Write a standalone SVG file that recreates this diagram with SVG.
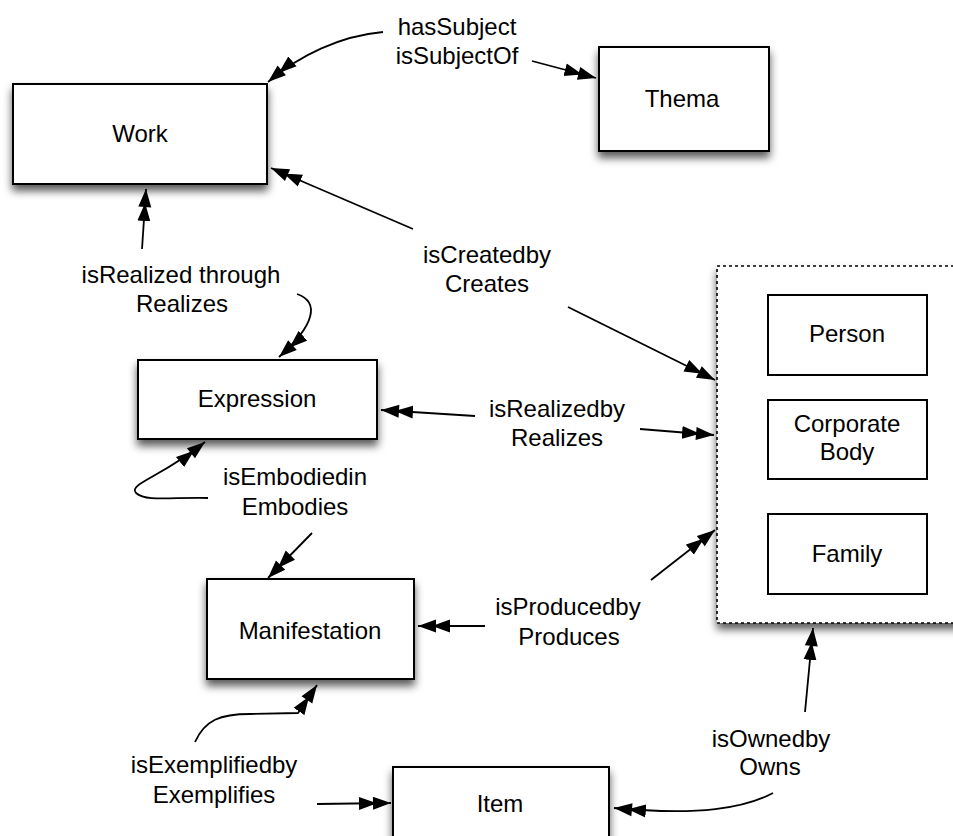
<svg xmlns="http://www.w3.org/2000/svg" width="953" height="836" viewBox="0 0 953 836">
<style>
.box{fill:#fff;stroke:#000;stroke-width:2}
.sh{filter:url(#shadow)}
.t{font-family:"Liberation Sans",Arial,sans-serif;font-size:24px;fill:#000;text-anchor:middle}
.c{fill:none;stroke:#000;stroke-width:1.8;marker-end:url(#dbl)}
</style>
<defs>
<filter id="shadow" x="-20%" y="-20%" width="140%" height="150%">
<feDropShadow dx="0" dy="6" stdDeviation="4.5" flood-color="#000" flood-opacity="0.65"/>
</filter>
<marker id="dbl" viewBox="0 0 32 14" refX="32" refY="7" markerWidth="32" markerHeight="14" markerUnits="userSpaceOnUse" orient="auto">
<path d="M0,0.5 L18,7 L0,13.5 Z M14,0.5 L32,7 L14,13.5 Z" fill="#000"/>
</marker>
</defs>

<g id="agents">
<rect class="sh" x="717" y="266" width="300" height="357" fill="#fff" stroke="#000" stroke-width="1.6" stroke-dasharray="3,3"/>
</g>
<g id="person"><rect class="box" x="768" y="295" width="159" height="80"/><text class="t" x="847" y="342">Person</text></g>
<g id="corporate"><rect class="box" x="768" y="400" width="159" height="79"/><text class="t" x="847" y="432">Corporate</text><text class="t" x="847" y="460">Body</text></g>
<g id="family"><rect class="box" x="768" y="514" width="159" height="80"/><text class="t" x="847" y="562">Family</text></g>

<g id="work"><rect class="box sh" x="13" y="84" width="254" height="100"/><text class="t" x="140" y="142">Work</text></g>
<g id="thema"><rect class="box sh" x="599" y="47" width="170" height="104"/><text class="t" x="682" y="107">Thema</text></g>
<g id="expression"><rect class="box sh" x="138" y="360" width="239" height="79"/><text class="t" x="257" y="407">Expression</text></g>
<g id="manifestation"><rect class="box sh" x="207" y="579" width="207" height="100"/><text class="t" x="310" y="639">Manifestation</text></g>
<g id="item"><rect class="box sh" x="393" y="767" width="216" height="90"/><text class="t" x="500" y="812">Item</text></g>

<g id="connectors">
<path class="c" d="M383,32 C340,36 300,55 268,82"/>
<path class="c" d="M532,61 L596,78"/>
<path class="c" d="M413,229 L271,168"/>
<path class="c" d="M568,307 L715,380"/>
<path class="c" d="M142,249 L146,189"/>
<path class="c" d="M297,294 C320,302 315,325 279,357"/>
<path class="c" d="M475,416 L381,410"/>
<path class="c" d="M640,429 L714,435"/>
<path class="c" d="M208,498 C172,497 146,502 136,493 C128,484 160,478 205,442"/>
<path class="c" d="M312,533 L268,578"/>
<path class="c" d="M485,626 L418,626"/>
<path class="c" d="M651,580 L715,530"/>
<path class="c" d="M195,742 C205,720 220,714 250,714 L298,713 L317,685"/>
<path class="c" d="M317,804 L391,803"/>
<path class="c" d="M805,712 L813,628"/>
<path class="c" d="M773,793 C745,808 700,816 614,808"/>
</g>

<g id="labels">
<text class="t" x="457" y="35">hasSubject</text>
<text class="t" x="457" y="64">isSubjectOf</text>
<text class="t" x="487" y="263">isCreatedby</text>
<text class="t" x="487" y="292">Creates</text>
<text class="t" x="181" y="283">isRealized through</text>
<text class="t" x="182" y="312">Realizes</text>
<text class="t" x="557" y="417">isRealizedby</text>
<text class="t" x="557" y="446">Realizes</text>
<text class="t" x="295" y="485">isEmbodiedin</text>
<text class="t" x="295" y="515">Embodies</text>
<text class="t" x="568" y="615">isProducedby</text>
<text class="t" x="569" y="645">Produces</text>
<text class="t" x="214" y="773">isExemplifiedby</text>
<text class="t" x="214" y="803">Exemplifies</text>
<text class="t" x="771" y="747">isOwnedby</text>
<text class="t" x="770" y="775">Owns</text>
</g>
</svg>
